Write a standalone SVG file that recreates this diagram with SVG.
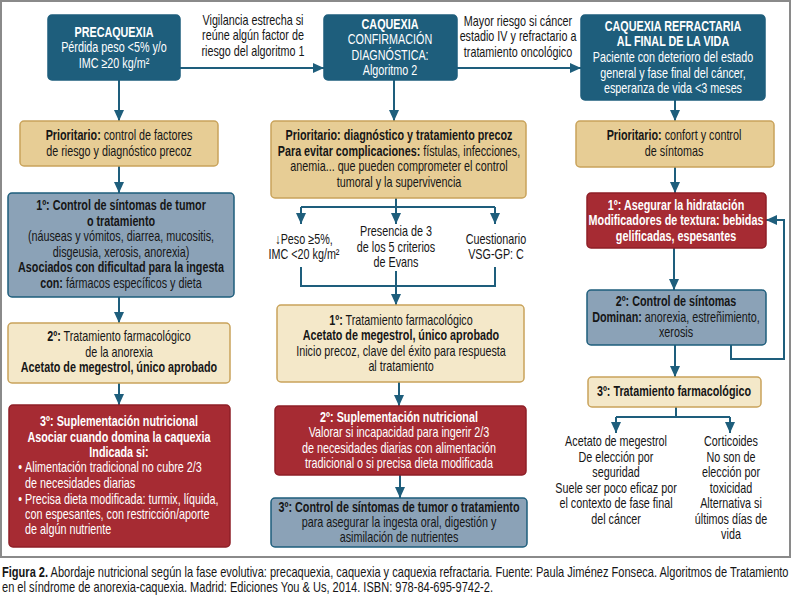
<svg xmlns="http://www.w3.org/2000/svg" width="792" height="600" viewBox="0 0 792 600">
<style>
text{font-family:"Liberation Sans",Arial,sans-serif;font-size:14px;text-anchor:middle;fill:#161616}
.b{font-weight:bold}
.w{fill:#fff}
.s{text-anchor:start}
.teal{fill:#1e5e7c;stroke:#1e5e7c;stroke-width:1.5}
.tan{fill:#e7cd95;stroke:#c9a35b;stroke-width:1.5}
.slate{fill:#8ba2b7;stroke:#1e5e7c;stroke-width:1.5}
.cream{fill:#f4e8c9;stroke:#c9a35b;stroke-width:1.5}
.red{fill:#a62b33;stroke:#8e1f27;stroke-width:1.5}
.c{fill:none;stroke:#1e5e7c;stroke-width:2}
.a{marker-end:url(#ah)}
</style>
<defs>
<marker id="ah" markerUnits="userSpaceOnUse" markerWidth="11" markerHeight="10" refX="11" refY="5" orient="auto">
<path d="M0,0 L11,5 L0,10 z" fill="#1e5e7c"/>
</marker>
</defs>
<rect x="0" y="0" width="792" height="600" fill="#fff"/>
<rect x="1" y="1" width="789" height="556" fill="none" stroke="#8a8a8a" stroke-width="2"/>

<g id="connectors">
<path class="c a" d="M180,68 H324"/>
<path class="c a" d="M457,68 H581"/>
<path class="c a" d="M119,80 V121"/>
<path class="c a" d="M119,166 V193"/>
<path class="c a" d="M119,297 V323"/>
<path class="c a" d="M119,383 V405"/>
<path class="c a" d="M394,80 V121"/>
<path class="c" d="M396,198 V207 M301,207 H495"/>
<path class="c a" d="M301,207 V224"/>
<path class="c a" d="M396,207 V224"/>
<path class="c a" d="M495,207 V224"/>
<path class="c" d="M301,267 V286 H495 V267"/>
<path class="c a" d="M396,271 V305"/>
<path class="c a" d="M399,382 V406"/>
<path class="c a" d="M400,475 V498"/>
<path class="c a" d="M675,100 V121"/>
<path class="c a" d="M675,167 V193"/>
<path class="c a" d="M674,248 V290"/>
<path class="c a" d="M675,345 V377"/>
<path class="c a" d="M731,345 V359 H784 V220 H766"/>
<path class="c" d="M676,407 V417 M616,417 H730"/>
<path class="c a" d="M616,417 V433"/>
<path class="c a" d="M730,417 V433"/>
</g>

<g id="lbl-vigilancia" transform="translate(253 0) scale(.77 1)">
<text y="25">Vigilancia estrecha si</text>
<text y="40.5">reúne algún factor de</text>
<text y="56">riesgo del algoritmo 1</text>
</g>
<g id="lbl-mayor" transform="translate(518 0) scale(.77 1)">
<text y="26">Mayor riesgo si cáncer</text>
<text y="41.5">estadio IV y refractario a</text>
<text y="57">tratamiento oncológico</text>
</g>

<g id="precaquexia">
<rect class="teal" x="48" y="15" width="132" height="65" rx="4"/>
<g transform="translate(114 0) scale(.77 1)">
<text class="w b" y="37">PRECAQUEXIA</text>
<text class="w" y="52.5">Pérdida peso &lt;5% y/o</text>
<text class="w" y="68">IMC ≥20 kg/m²</text>
</g>
</g>

<g id="caquexia">
<rect class="teal" x="324" y="15" width="133" height="65" rx="4"/>
<g transform="translate(390 0) scale(.77 1)">
<text class="w b" y="29">CAQUEXIA</text>
<text class="w" y="44.5">CONFIRMACIÓN</text>
<text class="w" y="60">DIAGNÓSTICA:</text>
<text class="w" y="75.5">Algoritmo 2</text>
</g>
</g>

<g id="refractaria">
<rect class="teal" x="581" y="15" width="184" height="85" rx="4"/>
<g transform="translate(673 0) scale(.77 1)">
<text class="w b" y="31">CAQUEXIA REFRACTARIA</text>
<text class="w b" y="46.5">AL FINAL  DE LA VIDA</text>
<text class="w" y="62.5">Paciente con deterioro del estado</text>
<text class="w" y="78">general y fase final del cáncer,</text>
<text class="w" y="93.5">esperanza de vida &lt;3 meses</text>
</g>
</g>

<g id="prio-izq">
<rect class="tan" x="20" y="121" width="198" height="45" rx="4"/>
<g transform="translate(119 0) scale(.77 1)">
<text y="140"><tspan class="b">Prioritario:</tspan> control de factores</text>
<text y="156">de riesgo y diagnóstico precoz</text>
</g>
</g>

<g id="izq-1">
<rect class="slate" x="8" y="193" width="226" height="104" rx="4"/>
<g transform="translate(121 0) scale(.77 1)">
<text class="b" y="210.5">1º: Control de síntomas de tumor</text>
<text class="b" y="226">o tratamiento</text>
<text y="241.5">(náuseas y vómitos, diarrea, mucositis,</text>
<text y="257">disgeusia, xerosis, anorexia)</text>
<text class="b" y="272.5">Asociados con dificultad para la ingesta</text>
<text y="288"><tspan class="b">con:</tspan> fármacos específicos y dieta</text>
</g>
</g>

<g id="izq-2">
<rect class="cream" x="8" y="323" width="222" height="60" rx="4"/>
<g transform="translate(119 0) scale(.77 1)">
<text y="341.5"><tspan class="b">2º:</tspan> Tratamiento farmacológico</text>
<text y="357">de la anorexia</text>
<text class="b" y="372.5">Acetato de megestrol, único aprobado</text>
</g>
</g>

<g id="izq-3">
<rect class="red" x="9" y="405" width="221" height="142" rx="4"/>
<g transform="translate(119 0) scale(.77 1)">
<text class="w b" y="426.5">3º: Suplementación nutricional</text>
<text class="w b" y="442">Asociar cuando domina la caquexia</text>
<text class="w b" y="457.5">Indicada si:</text>
<text class="w s" x="-131" y="472.5">•</text>
<text class="w s" x="-122" y="472.5">Alimentación tradicional no cubre 2/3</text>
<text class="w s" x="-122" y="488">de necesidades diarias</text>
<text class="w s" x="-131" y="503.5">•</text>
<text class="w s" x="-122" y="503.5">Precisa dieta modificada: turmix, líquida,</text>
<text class="w s" x="-122" y="519">con espesantes, con restricción/aporte</text>
<text class="w s" x="-122" y="534.5">de algún nutriente</text>
</g>
</g>

<g id="prio-centro">
<rect class="tan" x="271" y="121" width="255" height="77" rx="4"/>
<g transform="translate(399 0) scale(.77 1)">
<text class="b" y="140.5">Prioritario: diagnóstico y tratamiento precoz</text>
<text y="156"><tspan class="b">Para evitar complicaciones:</tspan> fístulas, infecciones,</text>
<text y="171.5">anemia... que pueden comprometer el control</text>
<text y="187">tumoral y la supervivencia</text>
</g>
</g>

<g id="crit-peso" transform="translate(304 0) scale(.77 1)">
<text y="244">↓Peso ≥5%,</text>
<text y="259.5">IMC &lt;20 kg/m²</text>
</g>
<g id="crit-evans" transform="translate(396 0) scale(.77 1)">
<text y="236.5">Presencia de 3</text>
<text y="252">de los 5 criterios</text>
<text y="267.5">de Evans</text>
</g>
<g id="crit-vsg" transform="translate(496 0) scale(.77 1)">
<text y="244">Cuestionario</text>
<text y="259.5">VSG-GP: C</text>
</g>

<g id="centro-1">
<rect class="cream" x="277" y="305" width="247" height="77" rx="4"/>
<g transform="translate(401 0) scale(.77 1)">
<text y="325"><tspan class="b">1º:</tspan> Tratamiento farmacológico</text>
<text class="b" y="340.5">Acetato de megestrol, único aprobado</text>
<text y="356">Inicio precoz, clave del éxito para respuesta</text>
<text y="371.5">al tratamiento</text>
</g>
</g>

<g id="centro-2">
<rect class="red" x="275" y="406" width="251" height="69" rx="4"/>
<g transform="translate(399 0) scale(.77 1)">
<text class="w b" y="422">2º: Suplementación nutricional</text>
<text class="w" y="437.5">Valorar si incapacidad para ingerir 2/3</text>
<text class="w" y="453">de necesidades diarias con alimentación</text>
<text class="w" y="468">tradicional o si precisa dieta modificada</text>
</g>
</g>

<g id="centro-3">
<rect class="slate" x="271" y="498" width="256" height="49" rx="4"/>
<g transform="translate(399 0) scale(.77 1)">
<text class="b" y="512">3º: Control de síntomas de tumor o tratamiento</text>
<text y="527.5">para asegurar la ingesta oral, digestión y</text>
<text y="542">asimilación de nutrientes</text>
</g>
</g>

<g id="prio-der">
<rect class="tan" x="576" y="121" width="198" height="46" rx="4"/>
<g transform="translate(674 0) scale(.77 1)">
<text y="140"><tspan class="b">Prioritario:</tspan> confort y control</text>
<text y="156">de síntomas</text>
</g>
</g>

<g id="der-1">
<rect class="red" x="587" y="193" width="179" height="55" rx="4"/>
<g transform="translate(676 0) scale(.77 1)">
<text class="w b" y="210">1º: Asegurar la hidratación</text>
<text class="w b" y="225.5">Modificadores de textura: bebidas</text>
<text class="w b" y="241">gelificadas, espesantes</text>
</g>
</g>

<g id="der-2">
<rect class="slate" x="587" y="290" width="179" height="55" rx="4"/>
<g transform="translate(676 0) scale(.77 1)">
<text class="b" y="306.5">2º: Control de síntomas</text>
<text y="322"><tspan class="b">Dominan:</tspan> anorexia, estreñimiento,</text>
<text y="337.5">xerosis</text>
</g>
</g>

<g id="der-3">
<rect class="cream" x="588" y="377" width="173" height="30" rx="4"/>
<g transform="translate(674 0) scale(.77 1)">
<text class="b" y="396">3º: Tratamiento farmacológico</text>
</g>
</g>

<g id="opt-megestrol" transform="translate(616 0) scale(.77 1)">
<text y="446.5">Acetato de megestrol</text>
<text y="462">De elección por</text>
<text y="477.5">seguridad</text>
<text y="493">Suele ser poco eficaz por</text>
<text y="508.5">el contexto de fase final</text>
<text y="524">del cáncer</text>
</g>
<g id="opt-corticoides" transform="translate(731 0) scale(.77 1)">
<text y="446.5">Corticoides</text>
<text y="462">No son de</text>
<text y="477.5">elección por</text>
<text y="493">toxicidad</text>
<text y="508.5">Alternativa si</text>
<text y="524">últimos días de</text>
<text y="539.5">vida</text>
</g>

<g id="caption" transform="translate(2 0) scale(.79 1)">
<text class="s" y="577"><tspan class="b">Figura 2.</tspan> Abordaje nutricional según la fase evolutiva: precaquexia, caquexia y caquexia refractaria. Fuente: Paula Jiménez Fonseca. Algoritmos de Tratamiento</text>
<text class="s" y="592">en el síndrome de anorexia-caquexia. Madrid: Ediciones You &amp; Us, 2014. ISBN: 978-84-695-9742-2.</text>
</g>
</svg>
